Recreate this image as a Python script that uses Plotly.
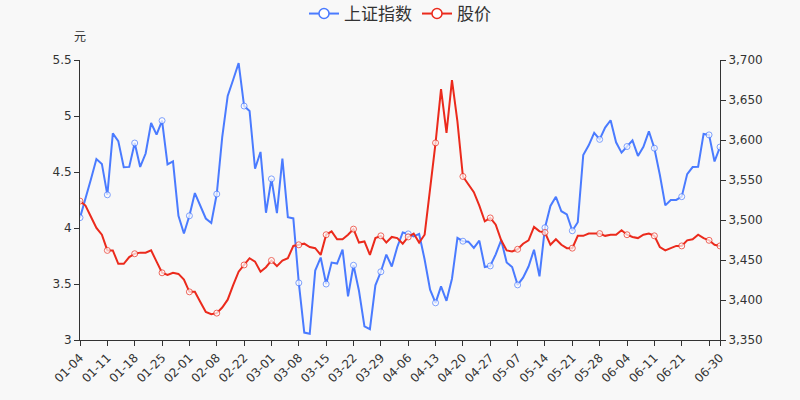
import plotly.graph_objects as go

dates = [
    "01-04", "01-05", "01-06", "01-07", "01-08", "01-11", "01-12", "01-13", "01-14", "01-15",
    "01-18", "01-19", "01-20", "01-21", "01-22", "01-25", "01-26", "01-27", "01-28", "01-29",
    "02-01", "02-02", "02-03", "02-04", "02-05", "02-08", "02-09", "02-10", "02-18", "02-19",
    "02-22", "02-23", "02-24", "02-25", "02-26", "03-01", "03-02", "03-03", "03-04", "03-05",
    "03-08", "03-09", "03-10", "03-11", "03-12", "03-15", "03-16", "03-17", "03-18", "03-19",
    "03-22", "03-23", "03-24", "03-25", "03-26", "03-29", "03-30", "03-31", "04-01", "04-02",
    "04-06", "04-07", "04-08", "04-09", "04-12", "04-13", "04-14", "04-15", "04-16", "04-19",
    "04-20", "04-21", "04-22", "04-23", "04-26", "04-27", "04-28", "04-29", "04-30", "05-06",
    "05-07", "05-10", "05-11", "05-12", "05-13", "05-14", "05-17", "05-18", "05-19", "05-20",
    "05-21", "05-24", "05-25", "05-26", "05-27", "05-28", "05-31", "06-01", "06-02", "06-03",
    "06-04", "06-07", "06-08", "06-09", "06-10", "06-11", "06-15", "06-16", "06-17", "06-18",
    "06-21", "06-22", "06-23", "06-24", "06-25", "06-28", "06-29", "06-30",
]

index_values = [
    3502.96, 3528.68, 3550.88, 3576.20, 3570.11, 3531.50, 3608.34, 3598.65, 3565.90, 3566.38,
    3596.22, 3566.27, 3583.09, 3621.26, 3606.75, 3624.24, 3569.43, 3573.34, 3505.18, 3483.07,
    3505.28, 3533.68, 3517.31, 3501.86, 3496.33, 3532.44, 3603.49, 3655.09, 3675.36, 3696.17,
    3642.44, 3636.36, 3564.08, 3585.05, 3509.08, 3551.40, 3508.59, 3576.90, 3503.49, 3501.99,
    3421.41, 3359.29, 3357.74, 3436.83, 3453.08, 3419.95, 3446.73, 3445.55, 3463.07, 3404.66,
    3443.44, 3411.51, 3367.06, 3363.59, 3418.33, 3435.30, 3456.68, 3441.91, 3466.33, 3484.39,
    3482.62, 3479.63, 3482.59, 3450.68, 3412.95, 3396.47, 3416.95, 3398.99, 3426.62, 3477.55,
    3473.50, 3472.94, 3465.11, 3474.17, 3441.17, 3442.61, 3457.07, 3474.90, 3446.86, 3441.28,
    3418.87, 3427.99, 3441.85, 3462.75, 3429.54, 3490.38, 3517.62, 3529.01, 3510.96, 3506.94,
    3486.56, 3497.28, 3581.34, 3593.36, 3608.85, 3600.78, 3615.48, 3624.71, 3597.14, 3584.22,
    3591.84, 3599.54, 3580.11, 3591.40, 3610.86, 3589.75, 3556.56, 3518.33, 3525.10, 3525.10,
    3529.18, 3557.41, 3566.22, 3566.65, 3607.56, 3606.37, 3573.18, 3591.20,
]

price_values = [
    4.24, 4.20, 4.10, 4.00, 3.94, 3.80, 3.80, 3.68, 3.68, 3.74,
    3.77, 3.78, 3.78, 3.80, 3.70, 3.60, 3.58, 3.60, 3.59, 3.54,
    3.43, 3.43, 3.34, 3.25, 3.23, 3.24, 3.29, 3.36, 3.49, 3.61,
    3.67, 3.73, 3.70, 3.61, 3.65, 3.71, 3.66, 3.71, 3.73, 3.84,
    3.85, 3.86, 3.83, 3.82, 3.76, 3.94, 3.97, 3.90, 3.90, 3.94,
    3.99, 3.87, 3.88, 3.76, 3.91, 3.93, 3.87, 3.92, 3.91, 3.86,
    3.92, 3.95, 3.87, 3.94, 4.35, 4.76, 5.24, 4.85, 5.32, 4.95,
    4.46, 4.39, 4.32, 4.20, 4.06, 4.09, 4.03, 3.89, 3.80, 3.79,
    3.81, 3.86, 3.89, 4.01, 3.97, 3.96, 3.85, 3.90, 3.85, 3.82,
    3.82, 3.93, 3.93, 3.95, 3.95, 3.95, 3.93, 3.94, 3.94, 3.98,
    3.94, 3.92, 3.91, 3.94, 3.95, 3.93, 3.83, 3.80, 3.82, 3.84,
    3.84, 3.89, 3.90, 3.94, 3.91, 3.89, 3.85, 3.84,
]

left_ticks = [3, 3.5, 4, 4.5, 5, 5.5]
right_ticks = [3350, 3400, 3450, 3500, 3550, 3600, 3650, 3700]

BLUE = "#4a7bff"
RED = "#eb2a1c"
BG = "#f8f8f8"
TXT = "#333333"
FONT = "DejaVu Sans, Noto Sans CJK SC, sans-serif"

n = len(dates)
marker_sizes = [6 if (i % 5 == 0 or i == n - 1) else 0 for i in range(n)]

tick_idx = list(range(0, n, 5)) + [n - 1]
tick_vals = [dates[i] for i in tick_idx]
tick_text = [dates[i] if (i != 115) else "" for i in tick_idx]

fig = go.Figure()

# index (right axis, drawn below)
fig.add_trace(go.Scatter(
    x=dates, y=index_values, mode="lines+markers", name="上证指数",
    line=dict(color=BLUE, width=2),
    marker=dict(size=marker_sizes, color="white", line=dict(color=BLUE, width=1)),
    yaxis="y", showlegend=False, hoverinfo="skip",
))
# price (left axis, on top)
fig.add_trace(go.Scatter(
    x=dates, y=price_values, mode="lines+markers", name="股价",
    line=dict(color=RED, width=2),
    marker=dict(size=marker_sizes, color="white", line=dict(color=RED, width=1)),
    yaxis="y2", showlegend=False, hoverinfo="skip",
))

# legend entries
for nm, col in (("上证指数", BLUE), ("股价", RED)):
    fig.add_trace(go.Scatter(
        x=[None], y=[None], mode="lines+markers", name=nm,
        line=dict(color=col, width=2),
        marker=dict(size=10, color="white", line=dict(color=col, width=1.5)),
        yaxis="y2",
    ))

fig.update_layout(
    width=800, height=400,
    margin=dict(l=80, r=80, t=60, b=60, autoexpand=False),
    paper_bgcolor=BG, plot_bgcolor=BG,
    font=dict(family=FONT, size=12, color=TXT),
    legend=dict(orientation="h", x=0.5, xanchor="center", y=0.965, yanchor="middle",
                yref="container", font=dict(size=17, color=TXT),
                itemwidth=30, bgcolor="rgba(0,0,0,0)"),
    xaxis=dict(
        type="category", categoryorder="array", categoryarray=dates,
        range=[0, n - 1], tickmode="array", tickvals=tick_vals, ticktext=tick_text,
        tickangle=-45, ticks="outside", ticklen=5, tickcolor=TXT,
        showline=True, linecolor=TXT, linewidth=1, showgrid=False, zeroline=False,
        tickfont=dict(size=12, color=TXT), automargin=False,
    ),
    yaxis=dict(
        side="right", range=[3350, 3700], tickmode="array", tickvals=right_ticks,
        tickformat=",", ticks="outside", ticklen=5, tickcolor=TXT,
        showline=True, linecolor=TXT, linewidth=1, showgrid=False, zeroline=False,
        tickfont=dict(size=12, color=TXT), automargin=False,
    ),
    yaxis2=dict(
        side="left", overlaying="y", range=[3, 5.5], tickmode="array", tickvals=left_ticks,
        ticks="outside", ticklen=5, tickcolor=TXT,
        showline=True, linecolor=TXT, linewidth=1, showgrid=False, zeroline=False,
        tickfont=dict(size=12, color=TXT), automargin=False,
    ),
    annotations=[dict(
        text="元", xref="paper", yref="paper", x=0, y=1, xanchor="center", yanchor="bottom",
        yshift=14, showarrow=False, font=dict(size=12, color=TXT),
    )],
)

fig.write_html(
    "out.html",
    config={"displayModeBar": False},
    post_script="document.body.style.margin='0';document.body.style.padding='0';"
                "document.body.style.background='" + BG + "';",
)
